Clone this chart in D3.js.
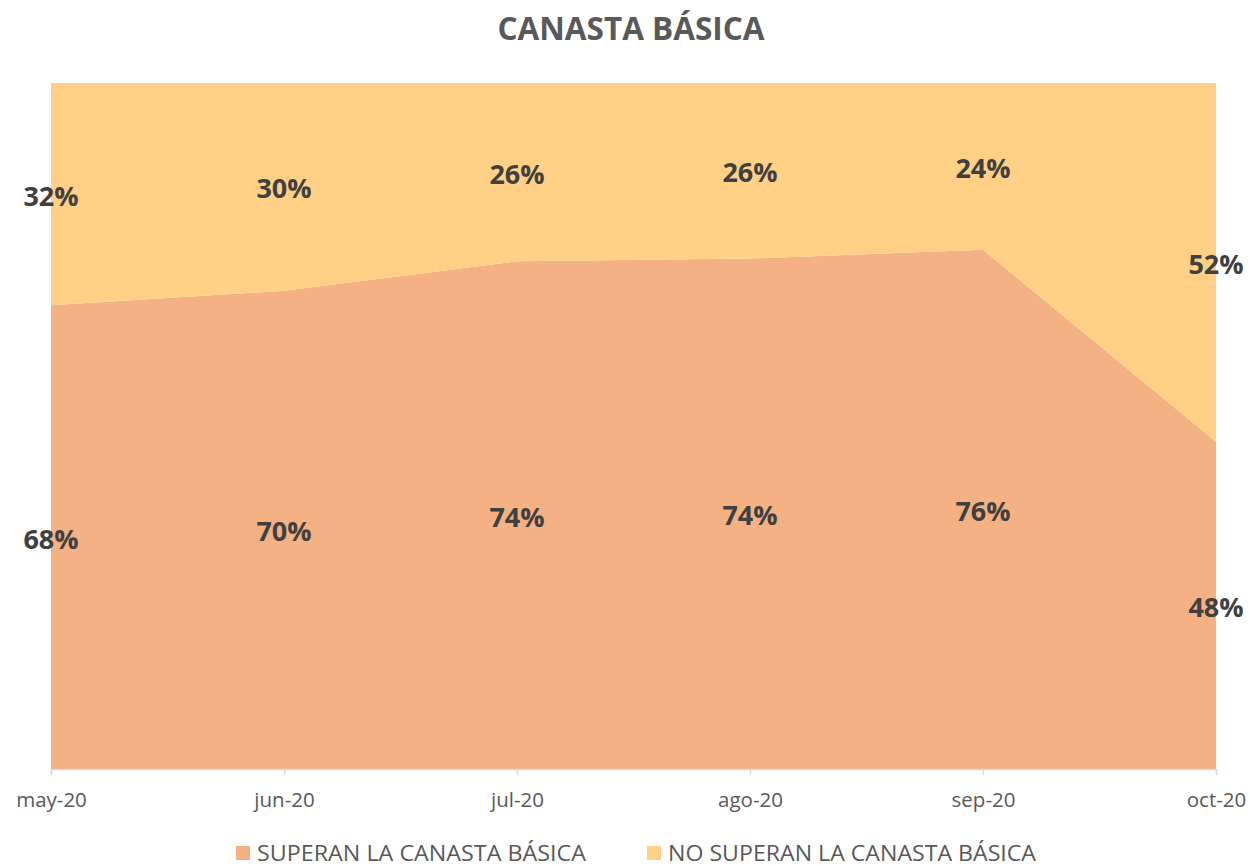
<!DOCTYPE html>
<html>
<head>
<meta charset="utf-8">
<script src="https://cdn.jsdelivr.net/npm/d3@7"></script>
<style>
  body { margin: 0; background: #fff; }
  text { font-family: "Open Sans", Lato, sans-serif; }
</style>
</head>
<body>
<script>
var w = 1250;
var h = 866;

// datos
var meses = ["may-20", "jun-20", "jul-20", "ago-20", "sep-20", "oct-20"];
var superan = [0.676, 0.697, 0.740, 0.744, 0.757, 0.477];
var noSuperan = [0.324, 0.303, 0.260, 0.256, 0.243, 0.523];
var series = ["SUPERAN LA CANASTA BÁSICA", "NO SUPERAN LA CANASTA BÁSICA"];
var colores = ["#f4b183", "#ffd085"];

var margin = {top: 83, right: 34, bottom: 97, left: 51};

var svg = d3.select("body").append("svg")
    .attr("width", w)
    .attr("height", h);

var tabla = meses.map(function(m, i) {
    return {mes: m, s0: superan[i], s1: noSuperan[i]};
});

var x = d3.scalePoint().domain(meses).range([margin.left, w - margin.right]);
var y = d3.scaleLinear().domain([0, 1]).range([h - margin.bottom, margin.top]);

var stack = d3.stack().keys(["s0", "s1"]);
var capas = stack(tabla);

var area = d3.area()
    .x(function(d) { return x(d.data.mes); })
    .y0(function(d) { return y(d[0]); })
    .y1(function(d) { return y(d[1]); });

svg.selectAll(".capa")
    .data(capas)
    .enter().append("path")
    .attr("class", "capa")
    .attr("d", area)
    .attr("fill", function(d, i) { return colores[i]; });

// eje x
var eje = svg.append("g")
    .attr("transform", "translate(0," + (h - margin.bottom) + ")")
    .call(d3.axisBottom(x).tickSize(6).tickPadding(17));
eje.select(".domain").attr("stroke", "#d9d9d9").attr("stroke-width", 1.5);
eje.selectAll(".tick line").attr("stroke", "#d9d9d9").attr("stroke-width", 1.5);
eje.selectAll(".tick text")
    .attr("fill", "#595959")
    .style("font-size", "20.5px");

// etiquetas
capas.forEach(function(capa) {
    svg.selectAll(null)
        .data(capa)
        .enter().append("text")
        .attr("x", function(d) { return x(d.data.mes); })
        .attr("y", function(d) { return y((d[0] + d[1]) / 2) + 2; })
        .attr("dy", "0.35em")
        .attr("text-anchor", "middle")
        .attr("fill", "#404040")
        .style("font-size", "27px")
        .style("font-weight", "bold")
        .text(function(d) { return d3.format(".0%")(d[1] - d[0]); });
});

// titulo
svg.append("text")
    .attr("x", 631)
    .attr("y", 40)
    .attr("text-anchor", "middle")
    .attr("fill", "#595959")
    .style("font-size", "31.5px")
    .style("font-weight", "bold")
    .text("CANASTA BÁSICA");

// leyenda
var leyX = [236, 647];
var leyW = [329, 368];
var ley = svg.selectAll(".ley")
    .data(series)
    .enter().append("g")
    .attr("class", "ley")
    .attr("transform", function(d, i) { return "translate(" + leyX[i] + ",846)"; });
ley.append("rect")
    .attr("width", 14)
    .attr("height", 14)
    .attr("fill", function(d, i) { return colores[i]; });
ley.append("text")
    .attr("x", 21)
    .attr("y", 15)
    .attr("fill", "#595959")
    .style("font-size", "21px")
    .attr("textLength", function(d, i) { return leyW[i]; })
    .attr("lengthAdjust", "spacingAndGlyphs")
    .text(function(d) { return d; });
</script>
</body>
</html>
